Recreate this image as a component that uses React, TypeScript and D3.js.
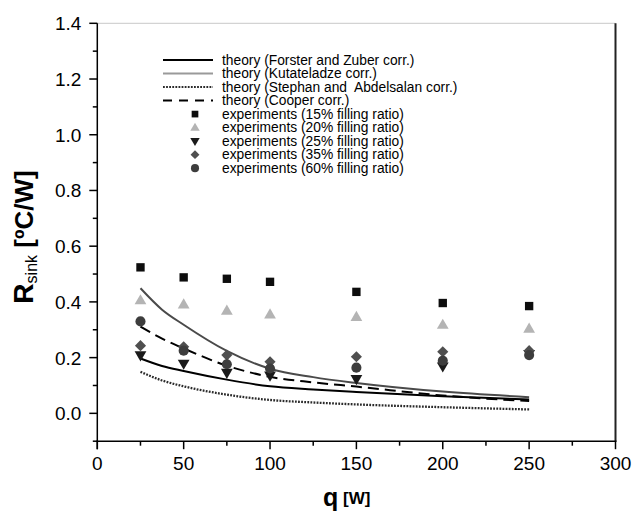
import React from "react";
import * as d3 from "d3";

const qExp = [25, 50, 75, 100, 150, 200, 250];
const fill15 = [0.524, 0.488, 0.483, 0.472, 0.436, 0.396, 0.385];
const fill20 = [0.407, 0.392, 0.37, 0.356, 0.347, 0.319, 0.305];
const fill25 = [0.207, 0.177, 0.144, 0.134, 0.122, 0.167, 0.212];
const fill35 = [0.243, 0.239, 0.209, 0.185, 0.203, 0.221, 0.225];
const fill60 = [0.33, 0.225, 0.176, 0.161, 0.164, 0.189, 0.209];

const qTheory = [25, 37.5, 50, 75, 100, 125, 150, 200, 250];
const forsterZuber = [0.197, 0.17, 0.152, 0.121, 0.097, 0.086, 0.077, 0.061, 0.05];
const kutateladze = [0.449, 0.372, 0.318, 0.224, 0.16, 0.13, 0.109, 0.078, 0.058];
const stephan = [0.149, 0.118, 0.097, 0.067, 0.048, 0.039, 0.032, 0.022, 0.014];
const cooper = [0.311, 0.268, 0.233, 0.171, 0.131, 0.111, 0.096, 0.064, 0.044];

const xTicks = [0, 50, 100, 150, 200, 250, 300];
const yTicks = [0.0, 0.2, 0.4, 0.6, 0.8, 1.0, 1.2, 1.4];

const theoryLabels = [
  "theory (Forster and Zuber corr.)",
  "theory (Kutateladze corr.)",
  "theory (Stephan and  Abdelsalan corr.)",
  "theory (Cooper corr.)",
];
const expLabels = [
  "experiments (15% filling ratio)",
  "experiments (20% filling ratio)",
  "experiments (25% filling ratio)",
  "experiments (35% filling ratio)",
  "experiments (60% filling ratio)",
];

const FONT = "'Liberation Sans', Arial, Helvetica, sans-serif";

export default function App() {
  const left = 97.3, right = 615.5, top = 23.3, bottom = 441.2;
  const x = d3.scaleLinear().domain([0, 300]).range([left, right]);
  const y = d3.scaleLinear().domain([-0.1, 1.4]).range([bottom, top]);

  const mkLine = (vals: number[]) =>
    d3
      .line<number>()
      .x((_, i) => x(qTheory[i]))
      .y((v) => y(v))
      .curve(d3.curveMonotoneX)(vals) || "";

  const theoryStyles = [
    { stroke: "#000", width: 2, dash: "", legendStroke: "#000" },
    { stroke: "#4a4a4a", width: 2, dash: "", legendStroke: "#9a9a9a" },
    { stroke: "#2a2a2a", width: 2.3, dash: "1.8,1.3", legendStroke: "#2a2a2a" },
    { stroke: "#000", width: 2, dash: "11,6", legendStroke: "#000" },
  ];
  const theorySeries = [forsterZuber, kutateladze, stephan, cooper];

  const sq = d3.symbol().type(d3.symbolSquare).size(70)() || "";
  const tri = d3.symbol().type(d3.symbolTriangle).size(60)() || "";
  const dia = d3.symbol().type(d3.symbolSquare).size(62)() || "";
  const circ = d3.symbol().type(d3.symbolCircle).size(80)() || "";

  const expSeries = [
    { vals: fill15, path: sq, fill: "#0d0d0d", rot: 0, dy: 0 },
    { vals: fill20, path: tri, fill: "#b4b4b4", rot: 0, dy: 1 },
    { vals: fill25, path: tri, fill: "#1a1a1a", rot: 180, dy: -1 },
    { vals: fill35, path: dia, fill: "#4f4f4f", rot: 45, dy: 0 },
    { vals: fill60, path: circ, fill: "#3d3d3d", rot: 0, dy: 0 },
  ];

  const minorX = d3.range(0, 301, 25).filter((v) => v % 50 !== 0);
  const minorY = d3.range(-1, 14, 2).map((v) => v / 10);

  const legX0 = 163, legX1 = 213, legTextX = 222, legMarkX = 195, legY0 = 60, legDy = 13.52;

  return (
    <svg
      width={634}
      height={511}
      style={{ position: "absolute", left: 0, top: 0, background: "#fff" }}
      fontFamily={FONT}
    >
      <rect x={0} y={0} width={634} height={511} fill="#fff" />
      {/* frame */}
      <line x1={left} x2={right} y1={top} y2={top} stroke="#c8c8c8" strokeWidth={1} />
      <line x1={right} x2={right} y1={top} y2={bottom} stroke="#222" strokeWidth={2} />
      <line x1={left} x2={left} y1={top} y2={bottom + 8} stroke="#000" strokeWidth={1.5} />
      <line x1={left - 1} x2={right + 1} y1={bottom} y2={bottom} stroke="#000" strokeWidth={1.5} />

      {/* x ticks */}
      {xTicks.map((t) => (
        <g key={"xt" + t}>
          <line x1={x(t)} x2={x(t)} y1={bottom} y2={bottom + 8} stroke="#000" strokeWidth={1.5} />
          <text x={x(t)} y={bottom + 28.5} fontSize={19} textAnchor="middle" fill="#000">
            {t}
          </text>
        </g>
      ))}
      {minorX.map((t) => (
        <line key={"xm" + t} x1={x(t)} x2={x(t)} y1={bottom} y2={bottom + 4.5} stroke="#000" strokeWidth={1.5} />
      ))}
      {/* y ticks */}
      {yTicks.map((t) => (
        <g key={"yt" + t}>
          <line x1={left - 8} x2={left} y1={y(t)} y2={y(t)} stroke="#000" strokeWidth={1.5} />
          <text x={left - 16} y={y(t) + 7} fontSize={19} textAnchor="end" fill="#000">
            {t.toFixed(1)}
          </text>
        </g>
      ))}
      {minorY.map((t) => (
        <line key={"ym" + t} x1={left - 4.5} x2={left} y1={y(t)} y2={y(t)} stroke="#000" strokeWidth={1.5} />
      ))}

      {/* axis titles */}
      <text
        x={0}
        y={0}
        transform="translate(33,237) rotate(-90)"
        textAnchor="middle"
        fill="#000"
        fontWeight="bold"
        style={{ whiteSpace: "pre" }}
      >
        <tspan fontSize={28}>R</tspan>
        <tspan fontSize={16} fontWeight="normal" dy={4}>sink</tspan>
        <tspan fontSize={26} dy={-4}>{" [ºC/W]"}</tspan>
      </text>
      <text x={323} y={506} fontSize={25} fontWeight="bold" fill="#000">
        q
      </text>
      <text x={343} y={504} fontSize={17} fontWeight="bold" fill="#000">
        [W]
      </text>

      {/* theory curves */}
      {theorySeries.map((vals, i) => (
        <path
          key={"th" + i}
          d={mkLine(vals)}
          fill="none"
          stroke={theoryStyles[i].stroke}
          strokeWidth={theoryStyles[i].width}
          strokeDasharray={theoryStyles[i].dash || undefined}
        />
      ))}

      {/* experiments */}
      {expSeries.map((s, si) =>
        s.vals.map((v, i) => (
          <path
            key={"e" + si + "_" + i}
            d={s.path}
            fill={s.fill}
            transform={`translate(${x(qExp[i])},${y(v) + s.dy}) rotate(${s.rot})`}
          />
        ))
      )}

      {/* legend */}
      {theoryLabels.map((lab, i) => {
        const yy = legY0 + i * legDy;
        const st = theoryStyles[i];
        return (
          <g key={"lt" + i}>
            <line
              x1={legX0}
              x2={legX1}
              y1={yy}
              y2={yy}
              stroke={st.legendStroke}
              strokeWidth={2}
              strokeDasharray={i === 3 ? "9,7" : st.dash || undefined}
            />
            <text x={legTextX} y={yy + 4.8} fontSize={13.8} fill="#000" style={{ whiteSpace: "pre" }}>
              {lab}
            </text>
          </g>
        );
      })}
      {expLabels.map((lab, i) => {
        const yy = legY0 + (i + 4) * legDy;
        const s = expSeries[i];
        return (
          <g key={"le" + i}>
            <path
              d={s.path}
              fill={s.fill}
              transform={`translate(${legMarkX},${yy + s.dy * 0.5}) rotate(${s.rot}) scale(0.8)`}
            />
            <text x={legTextX} y={yy + 4.8} fontSize={13.8} fill="#000">
              {lab}
            </text>
          </g>
        );
      })}
    </svg>
  );
}
